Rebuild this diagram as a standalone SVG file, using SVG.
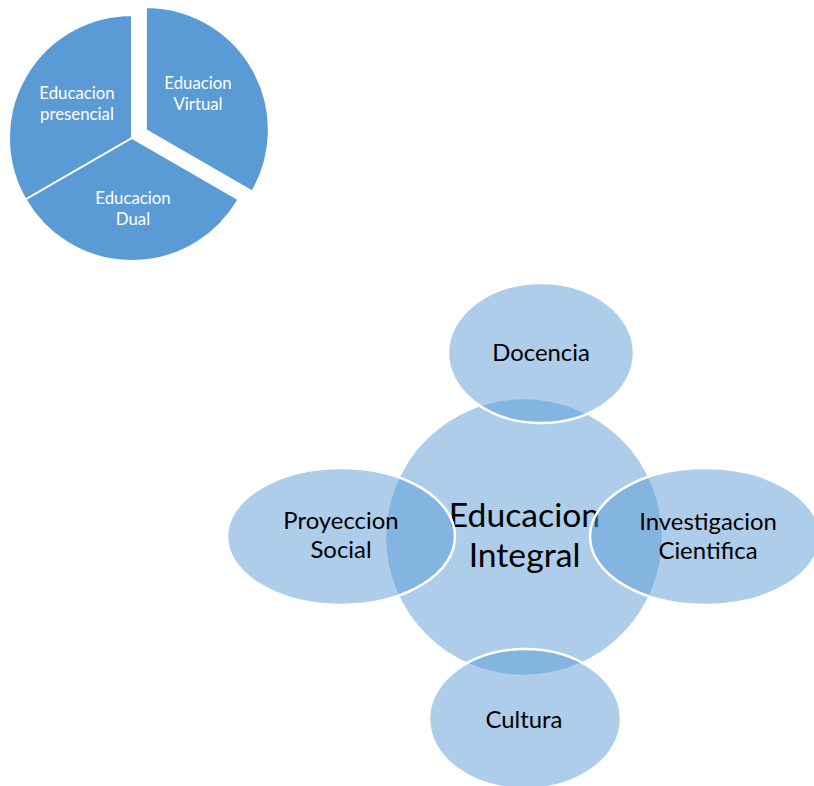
<svg xmlns="http://www.w3.org/2000/svg" width="814" height="786" viewBox="0 0 814 786">
<style>
.slice{fill:#5B9BD5;stroke:#FFFFFF;stroke-width:2}
.pt{font-family:Lato,"Liberation Sans",sans-serif;font-size:16.8px;fill:#FFFFFF;text-anchor:middle}
.bub{fill:#5B9BD5;fill-opacity:0.5;stroke:#FFFFFF;stroke-width:2.5}
.bt{font-family:Lato,"Liberation Sans",sans-serif;font-size:23.9px;fill:#000000;text-anchor:middle}
.ct{font-family:Lato,"Liberation Sans",sans-serif;font-size:33.7px;fill:#000000;text-anchor:middle}
</style>
<rect width="814" height="786" fill="#FFFFFF"/>
<g id="pie">
  <g id="slice-presencial">
    <path class="slice" d="M132,138 L132,15 A123,123 0 0 0 25.48,199.5 Z"/>
    <text class="pt" x="77" y="99">Educacion</text>
    <text class="pt" x="77" y="120">presencial</text>
  </g>
  <g id="slice-dual">
    <path class="slice" d="M132,138 L25.48,199.5 A123,123 0 0 0 238.52,199.5 Z"/>
    <text class="pt" x="133" y="204">Educacion</text>
    <text class="pt" x="133" y="225">Dual</text>
  </g>
  <g id="slice-virtual">
    <path class="slice" d="M145.86,130 L145.86,7 A123,123 0 0 1 252.38,191.5 Z"/>
    <text class="pt" x="198" y="89">Eduacion</text>
    <text class="pt" x="198" y="110">Virtual</text>
  </g>
</g>
<g id="connectors"/>
<g id="center">
  <circle class="bub" cx="524" cy="537" r="139"/>
  <text class="ct" x="524.5" y="527">Educacion</text>
  <text class="ct" x="524.5" y="567">Integral</text>
</g>
<g id="docencia">
  <ellipse class="bub" cx="541" cy="353" rx="93" ry="70"/>
  <text class="bt" x="541" y="361">Docencia</text>
</g>
<g id="proyeccion">
  <ellipse class="bub" cx="341" cy="536.5" rx="114" ry="68.5"/>
  <text class="bt" x="341" y="529">Proyeccion</text>
  <text class="bt" x="341" y="558">Social</text>
</g>
<g id="investigacion">
  <ellipse class="bub" cx="705" cy="536.5" rx="115" ry="68.5"/>
  <text class="bt" x="708" y="530">Investigacion</text>
  <text class="bt" x="708" y="559">Cientifica</text>
</g>
<g id="cultura">
  <ellipse class="bub" cx="525" cy="719" rx="96" ry="70"/>
  <text class="bt" x="524" y="728">Cultura</text>
</g>
</svg>
